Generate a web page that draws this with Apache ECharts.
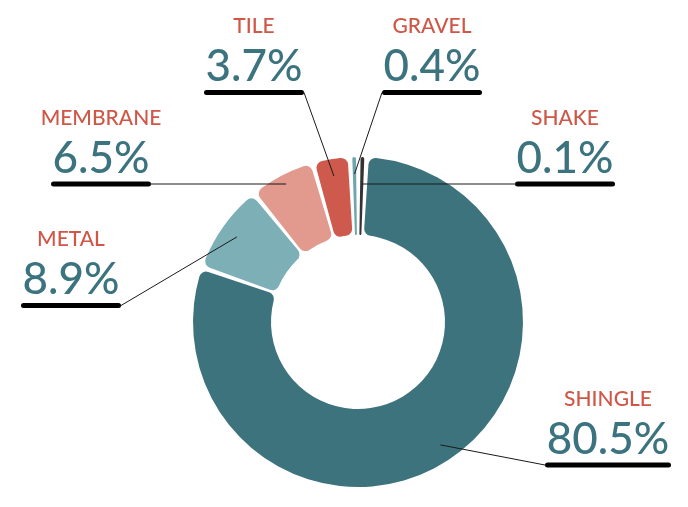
<!DOCTYPE html>
<html><head><meta charset="utf-8">
<script src="https://cdn.jsdelivr.net/npm/echarts@6/dist/echarts.min.js"></script>
<style>html,body{margin:0;padding:0;background:#fff}#c{width:688px;height:507px}</style>
</head><body><div id="c"></div>
<script>
const categories = ['SHINGLE', 'METAL', 'MEMBRANE', 'TILE', 'GRAVEL', 'SHAKE'];
const shares = [80.5, 8.9, 6.5, 3.7, 0.4, 0.1];
const sliceColors = ['#3d737d', '#7dafb7', '#e2998e', '#cd5a4c', '#6fa6ae', '#333333'];
// label anchors (layout only): [center x, bottom y of underline]
const labelAnchors = [[608, 467.5], [71, 308], [101, 186.5], [254, 95], [432, 95], [565, 186.5]];
const CX = 358, CY = 322, R0 = 87, R1 = 165, LINE_R = 148;
const PCT_FONT = '500 44px Lato';

const measureCtx = document.createElement('canvas').getContext('2d');
measureCtx.font = PCT_FONT;
const pctText = i => shares[i].toFixed(1) + '%';
const pctWidth = i => Math.ceil(measureCtx.measureText(pctText(i)).width) + 3;

const chart = echarts.init(document.getElementById('c'));
chart.setOption({
  animation: false,
  series: [{
    type: 'pie',
    center: [CX, CY],
    radius: [R0, R1],
    startAngle: 87,
    clockwise: true,
    padAngle: 1.6,
    minAngle: 1.3,
    avoidLabelOverlap: false,
    itemStyle: { borderRadius: 7 },
    data: categories.map((c, i) => ({
      name: c, value: shares[i],
      itemStyle: { color: sliceColors[i] },
      label: { rich: { u: { width: pctWidth(i) } } }
    })),
    label: {
      show: true,
      position: 'outside',
      fontFamily: 'Lato',
      formatter: p => '{n|' + p.name + '}\n{v|' + pctText(p.dataIndex) + '}\n{u|}',
      rich: {
        n: { fontFamily: 'Lato', fontWeight: 500, fontSize: 21, lineHeight: 35, color: '#cf5747', align: 'center' },
        v: { fontFamily: 'Lato', fontWeight: 500, fontSize: 44, lineHeight: 46, color: '#3b737e', align: 'center' },
        u: { width: 100, height: 5, lineHeight: 5, backgroundColor: '#000', borderRadius: 2.5, align: 'center' }
      }
    },
    labelLine: { show: false },
    labelLayout: function (params) {
      const a = labelAnchors[params.dataIndex];
      return { x: a[0], y: a[1], align: 'center', verticalAlign: 'bottom' };
    }
  }]
});

// connector lines from each slice (library layout) to the near end of its underline
(function drawConnectors() {
  const data = chart.getModel().getSeriesByIndex(0).getData();
  const els = [];
  categories.forEach((c, i) => {
    const L = data.getItemLayout(i);
    const mid = (L.startAngle + L.endAngle) / 2;
    const ax = labelAnchors[i][0], uy = labelAnchors[i][1] - 2.5;
    let r = LINE_R;
    const s = Math.sin(mid);
    if (Math.abs(s) > 1e-6) {
      const rc = (uy - L.cy) / s;
      if (rc > L.r0 + 8 && rc < L.r - 6) r = rc;
    }
    const sx = L.cx + Math.cos(mid) * r, sy = L.cy + Math.sin(mid) * r;
    const w = pctWidth(i);
    const ex = ax < L.cx ? ax + w / 2 : ax - w / 2;
    els.push({ type: 'polyline', z: 100, shape: { points: [[sx, sy], [ex, uy]] },
      style: { stroke: '#1a1a1a', lineWidth: 1, fill: null } });
  });
  chart.setOption({ graphic: els });
})();
</script></body></html>
